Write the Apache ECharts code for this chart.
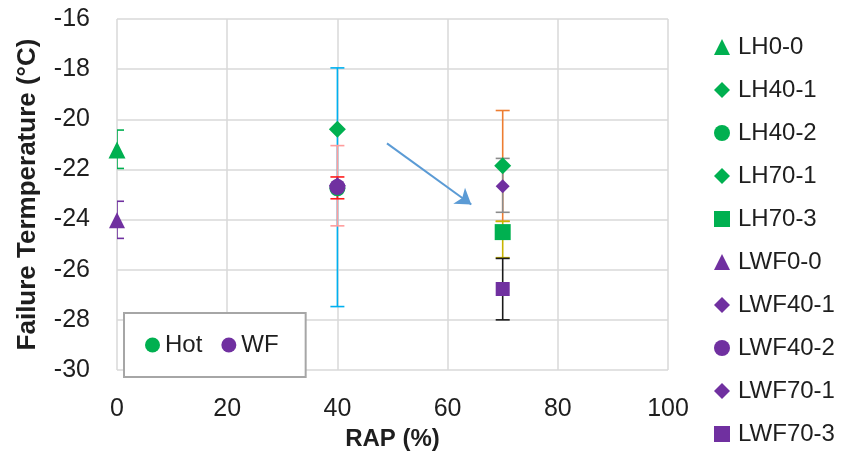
<!DOCTYPE html>
<html><head><meta charset="utf-8">
<script src="https://cdn.jsdelivr.net/npm/echarts@6/dist/echarts.min.js"></script>
<style>html,body{margin:0;padding:0;background:#fff}#c{width:845px;height:457px}</style>
</head><body><div id="c"></div>
<script>
// ---- data ----
const seriesNames = ['LH0-0','LH40-1','LH40-2','LH70-1','LH70-3','LWF0-0','LWF40-1','LWF40-2','LWF70-1','LWF70-3'];
const rapValues  = [0, 40, 40, 70, 70, 0, 40, 40, 70, 70];
const failTemps  = [-21.23, -20.4, -22.75, -21.85, -24.5, -24.03, -22.65, -22.7, -22.67, -26.77];
const errHigh    = [-20.43, null, -17.95, -19.65, -24.07, -23.27, -21.05, -22.3, -21.56, -25.55];
const errLow     = [-21.96, null, -27.47, -24.07, -25.52, -24.75, -24.25, -23.17, -23.71, -28.0];
const groupNames = ['Hot', 'WF'];
const xTicks = [0, 20, 40, 60, 80, 100];
const yTicks = [-30, -28, -26, -24, -22, -20, -18, -16];
const arrowFrom = [49, -20.96];
const arrowTo   = [64.3, -23.4];

// ---- styles ----
const GREEN = '#00B050', PURPLE = '#7030A0';
const markColors = [GREEN, GREEN, GREEN, GREEN, GREEN, PURPLE, PURPLE, PURPLE, PURPLE, PURPLE];
const markSymbols = ['triangle','diamond','circle','diamond','rect','triangle','diamond','circle','diamond','rect'];
const markSizes = [17, 17, 16, 17, 16, 16, 17, 16, 14, 14];
const errColors = [GREEN, null, '#00B0F0', '#ED7D31', '#C8B400', PURPLE, '#FF9C9C', '#FF1A1A', '#8C8C8C', '#1a1a1a'];
const FONT = 'Liberation Sans, Arial, sans-serif';
const TXT = '#1e1e1e';

const errData = [];
seriesNames.forEach((n, i) => {
  if (errLow[i] !== null) errData.push([rapValues[i], errLow[i], errHigh[i], i]);
});

const series = [];
series.push({
  type: 'custom', name: 'errorbars', z: 1, clip: true,
  data: errData,
  encode: { x: 0, y: [1, 2] },
  renderItem: function (params, api) {
    const x = api.value(0), lo = api.value(1), hi = api.value(2), idx = api.value(3);
    const pHi = api.coord([x, hi]), pLo = api.coord([x, lo]);
    const c = errColors[idx];
    const hw = 7;
    const st = { stroke: c, lineWidth: 1.6 };
    return {
      type: 'group',
      children: [
        { type: 'line', shape: { x1: pHi[0], y1: pHi[1], x2: pLo[0], y2: pLo[1] }, style: st },
        { type: 'line', shape: { x1: pHi[0] - hw, y1: pHi[1], x2: pHi[0] + hw, y2: pHi[1] }, style: st },
        { type: 'line', shape: { x1: pLo[0] - hw, y1: pLo[1], x2: pLo[0] + hw, y2: pLo[1] }, style: st }
      ]
    };
  }
});
seriesNames.forEach((n, i) => {
  series.push({
    type: 'scatter', name: n, z: 3,
    symbol: markSymbols[i], symbolSize: markSizes[i],
    itemStyle: { color: markColors[i], opacity: 1 },
    data: [[rapValues[i], failTemps[i]]]
  });
});
groupNames.forEach((n, i) => {
  series.push({ type: 'scatter', name: n, data: [], symbol: 'circle', itemStyle: { color: i === 0 ? GREEN : PURPLE, opacity: 1 } });
});
series.push({
  type: 'lines', coordinateSystem: 'cartesian2d', z: 4,
  symbol: ['none', 'arrow'], symbolSize: 15,
  lineStyle: { color: '#5B9BD5', width: 2, opacity: 1 },
  data: [{ coords: [arrowFrom, arrowTo] }]
});

const chart = echarts.init(document.getElementById('c'), null, { renderer: 'canvas' });
chart.setOption({
  animation: false,
  backgroundColor: '#fff',
  textStyle: { fontFamily: FONT },
  grid: { left: 117, right: 177, top: 19, bottom: 87, containLabel: false },
  xAxis: {
    type: 'value', min: xTicks[0], max: xTicks[xTicks.length - 1], interval: xTicks[1] - xTicks[0],
    name: 'RAP (%)', nameLocation: 'middle', nameGap: 57,
    nameTextStyle: { fontFamily: FONT, fontSize: 24, fontWeight: 'bold', color: TXT },
    axisLine: { show: false }, axisTick: { show: false },
    axisLabel: { fontFamily: FONT, fontSize: 25, color: TXT, margin: 27 },
    splitLine: { show: true, lineStyle: { color: '#D9D9D9', width: 1.5 } }
  },
  yAxis: {
    type: 'value', min: yTicks[0], max: yTicks[yTicks.length - 1], interval: yTicks[1] - yTicks[0],
    name: 'Failure Termperature (°C)', nameLocation: 'middle', nameGap: 76,
    nameTextStyle: { fontFamily: FONT, fontSize: 26, fontWeight: 'bold', color: TXT },
    axisLine: { show: false }, axisTick: { show: false },
    axisLabel: { fontFamily: FONT, fontSize: 25, color: TXT, margin: 27 },
    splitLine: { show: true, lineStyle: { color: '#D9D9D9', width: 1.5 } }
  },
  legend: [
    {
      orient: 'vertical', left: 709, top: 30, padding: 5,
      itemWidth: 16, itemHeight: 16, itemGap: 19,
      textStyle: { fontFamily: FONT, fontSize: 24, lineHeight: 24, color: TXT, padding: [0, 0, 0, 3] },
      data: seriesNames.map((n, i) => ({ name: n, icon: markSymbols[i], itemStyle: { color: markColors[i], opacity: 1 } })),
      selectedMode: false
    },
    {
      orient: 'horizontal', left: 124, top: 313,
      padding: [20, 27, 20, 21],
      backgroundColor: '#fff', borderColor: '#A6A6A6', borderWidth: 2,
      itemWidth: 15, itemHeight: 15, itemGap: 19,
      textStyle: { fontFamily: FONT, fontSize: 24, lineHeight: 24, color: TXT },
      data: groupNames.map((n, i) => ({ name: n, icon: 'circle', itemStyle: { color: i === 0 ? GREEN : PURPLE, opacity: 1 } })),
      selectedMode: false, z: 10
    }
  ],
  series: series
});
</script></body></html>
